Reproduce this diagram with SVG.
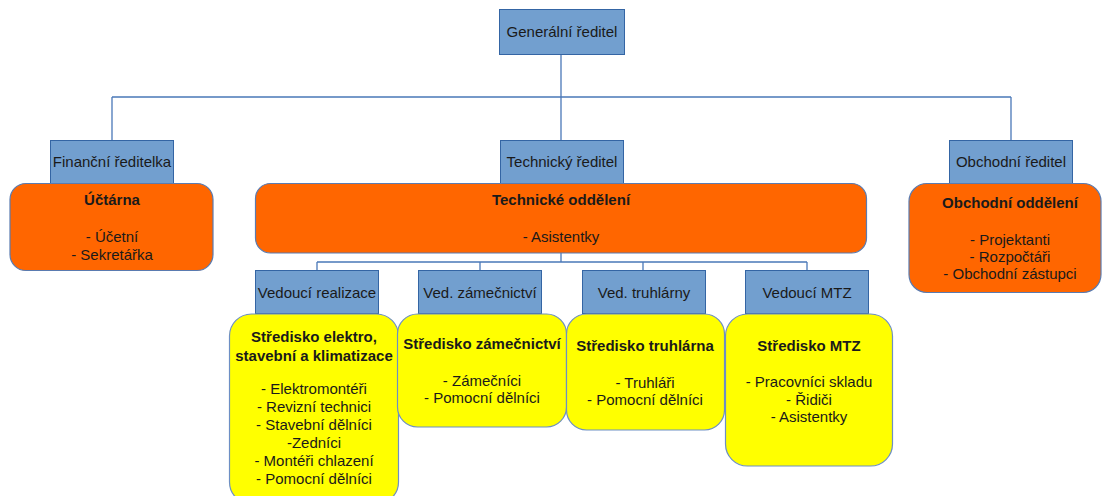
<svg xmlns="http://www.w3.org/2000/svg" width="1102" height="496" viewBox="0 0 1102 496">
  <style>
    .role { fill: #729fcf; stroke: #3465a4; stroke-width: 1; }
    .dept { fill: #ff6600; stroke: #5a7bb0; stroke-width: 1.2; }
    .unit { fill: #ffff00; stroke: #6d8fc4; stroke-width: 1.2; }
    .wire { fill: none; stroke: #4a78b8; stroke-width: 1.3; }
    text { font-family: "Liberation Sans", Arial, sans-serif; font-size: 15px; fill: #1a1a1a; text-anchor: middle; }
    .b { font-weight: bold; }
  </style>

  <!-- connectors -->
  <g id="connectors">
    <path class="wire" d="M561 55 V97 M112 97 H1011 M112 97 V140 M561 97 V140 M1011 97 V140"/>
    <path class="wire" d="M561 253 V262 M317 262 H807 M317 262 V270 M480 262 V270 M643 262 V270 M807 262 V270"/>
  </g>

  <!-- top level -->
  <g id="generalni-reditel">
    <rect class="role" x="499.5" y="9.5" width="125" height="45"/>
    <text x="562" y="37">Generální ředitel</text>
  </g>

  <!-- finance -->
  <g id="financni-reditelka">
    <rect class="role" x="50.5" y="140.5" width="123" height="43"/>
    <text x="112" y="167">Finanční ředitelka</text>
  </g>
  <g id="uctarna">
    <rect class="dept" x="10" y="183.5" width="203" height="87" rx="16"/>
    <text class="b" x="112" y="205">Účtárna</text>
    <text x="112" y="242">- Účetní</text>
    <text x="112" y="260">- Sekretářka</text>
  </g>

  <!-- technical -->
  <g id="technicky-reditel">
    <rect class="role" x="500.5" y="140.5" width="123" height="43"/>
    <text x="562" y="167">Technický ředitel</text>
  </g>
  <g id="technicke-oddeleni">
    <rect class="dept" x="255.5" y="183.5" width="611" height="69.5" rx="15"/>
    <text class="b" x="561" y="205">Technické oddělení</text>
    <text x="561" y="242">- Asistentky</text>
  </g>

  <!-- sales -->
  <g id="obchodni-reditel">
    <rect class="role" x="949.5" y="140.5" width="123" height="43"/>
    <text x="1011" y="167">Obchodní ředitel</text>
  </g>
  <g id="obchodni-oddeleni">
    <rect class="dept" x="909" y="183.5" width="192" height="109" rx="18"/>
    <text class="b" x="1010" y="208">Obchodní oddělení</text>
    <text x="1010" y="245">- Projektanti</text>
    <text x="1010" y="262">- Rozpočtáři</text>
    <text x="1010" y="279">- Obchodní zástupci</text>
  </g>

  <!-- realization -->
  <g id="vedouci-realizace">
    <rect class="role" x="255.5" y="270.5" width="123" height="43"/>
    <text x="317" y="298">Vedoucí realizace</text>
  </g>
  <g id="stredisko-elektro">
    <rect class="unit" x="229.5" y="314" width="169" height="190" rx="22"/>
    <text class="b" x="314" y="342">Středisko elektro,</text>
    <text class="b" x="314" y="361">stavební a klimatizace</text>
    <text x="314" y="394">- Elektromontéři</text>
    <text x="314" y="412">- Revizní technici</text>
    <text x="314" y="430">- Stavební dělníci</text>
    <text x="314" y="448">-Zedníci</text>
    <text x="314" y="466">- Montéři chlazení</text>
    <text x="314" y="484">- Pomocní dělníci</text>
  </g>

  <!-- locksmiths -->
  <g id="ved-zamecnictvi">
    <rect class="role" x="418.5" y="270.5" width="123" height="43"/>
    <text x="480" y="298">Ved. zámečnictví</text>
  </g>
  <g id="stredisko-zamecnictvi">
    <rect class="unit" x="397.5" y="314" width="169" height="113" rx="20"/>
    <text class="b" x="482" y="349">Středisko zámečnictví</text>
    <text x="482" y="386">- Zámečníci</text>
    <text x="482" y="403">- Pomocní dělníci</text>
  </g>

  <!-- joinery -->
  <g id="ved-truhlarny">
    <rect class="role" x="582.5" y="270.5" width="123" height="43"/>
    <text x="644" y="298">Ved. truhlárny</text>
  </g>
  <g id="stredisko-truhlarna">
    <rect class="unit" x="566.5" y="314" width="158" height="116" rx="20"/>
    <text class="b" x="645" y="351">Středisko truhlárna</text>
    <text x="645" y="388">- Truhláři</text>
    <text x="645" y="405">- Pomocní dělníci</text>
  </g>

  <!-- MTZ -->
  <g id="vedouci-mtz">
    <rect class="role" x="745.5" y="270.5" width="123" height="43"/>
    <text x="807" y="298">Vedoucí MTZ</text>
  </g>
  <g id="stredisko-mtz">
    <rect class="unit" x="725.5" y="314" width="167" height="152" rx="22"/>
    <text class="b" x="809" y="351">Středisko MTZ</text>
    <text x="809" y="387">- Pracovníci skladu</text>
    <text x="809" y="405">- Řidiči</text>
    <text x="809" y="422">- Asistentky</text>
  </g>
</svg>
